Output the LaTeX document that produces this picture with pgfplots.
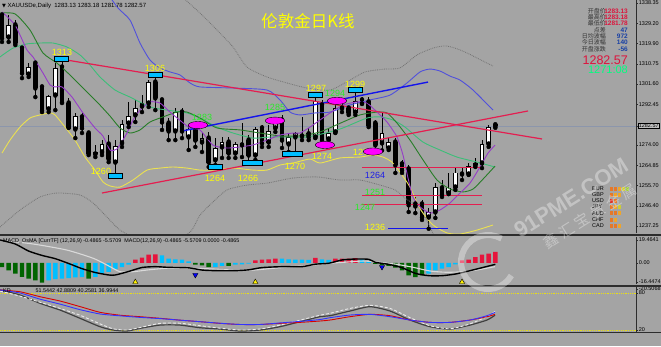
\documentclass[border=0pt]{standalone}
\usepackage{pgfplots}
\pgfplotsset{compat=1.18}
\usepackage{pgfplotstable}
\usepackage{fontspec}
\setmainfont{Liberation Sans}
\newfontfamily\cjk{Noto Sans CJK SC}
\newfontfamily\dejavu{DejaVu Sans}

\definecolor{bgc}{RGB}{164,164,164}
\definecolor{axc}{RGB}{45,45,45}
\definecolor{maPurple}{RGB}{150,60,200}
\definecolor{maDark}{RGB}{40,125,40}
\definecolor{maLight}{RGB}{60,190,120}
\definecolor{bbUp}{RGB}{80,80,220}
\definecolor{bbLow}{RGB}{235,225,80}
\definecolor{dotg}{RGB}{115,115,115}
\definecolor{trRed}{RGB}{228,30,80}
\definecolor{trBlue}{RGB}{20,20,235}
\definecolor{lblY}{RGB}{255,255,0}
\definecolor{lblG}{RGB}{40,235,40}
\definecolor{lblB}{RGB}{30,30,230}
\definecolor{boxC}{RGB}{0,190,255}
\definecolor{ellM}{RGB}{255,0,255}
\definecolor{hG}{RGB}{0,100,0}
\definecolor{hC}{RGB}{0,191,255}
\definecolor{hR}{RGB}{230,20,60}
\definecolor{pxline}{RGB}{140,150,172}
\definecolor{crim}{RGB}{220,20,60}
\definecolor{valB}{RGB}{25,65,165}
\definecolor{sprG}{RGB}{0,255,127}
\definecolor{cu1}{RGB}{230,120,40}
\definecolor{cu2}{RGB}{240,165,40}
\definecolor{cu3}{RGB}{205,205,50}
\definecolor{cu4}{RGB}{150,200,50}
\definecolor{cuR}{RGB}{220,50,40}

% daily OHLC, bar index 0 = 13 Sep 2017
\pgfplotstableread{
i o h l c
0 1332.9 1334.3 1320.7 1322.5
1 1322.9 1332.9 1320.7 1328.4
2 1328.4 1330.6 1319.3 1320.2
3 1317.9 1318.4 1304.3 1306.6
4 1306.1 1311.1 1304.8 1309.3
5 1311.1 1311.6 1295.7 1299.8
6 1300.3 1301.2 1288.9 1289.8
7 1290.3 1296.6 1288.9 1296.2
8 1296.6 1311.1 1289.8 1308.9
9 1309.3 1313.0 1293.0 1293.5
10 1293.0 1295.3 1281.7 1282.1
11 1281.2 1288.5 1277.1 1286.7
12 1286.7 1288.5 1279.4 1281.7
13 1279.4 1279.9 1269.4 1270.3
14 1269.9 1274.0 1268.5 1270.8
15 1270.8 1276.2 1269.4 1274.0
16 1274.4 1278.5 1266.2 1267.6
17 1266.2 1276.2 1260.0 1273.5
18 1274.9 1285.3 1273.1 1283.5
19 1283.9 1293.5 1282.1 1287.1
20 1287.6 1294.4 1284.4 1290.7
21 1291.6 1296.6 1288.9 1293.0
22 1293.0 1303.4 1291.2 1302.5
23 1302.5 1306.0 1289.8 1295.3
24 1294.4 1295.3 1280.8 1284.4
25 1283.9 1286.2 1276.2 1280.3
26 1280.3 1290.7 1276.2 1288.9
27 1288.9 1290.7 1277.1 1280.3
28 1277.6 1283.0 1271.7 1280.8
29 1282.1 1283.9 1273.1 1276.2
30 1275.3 1279.4 1270.8 1277.1
31 1277.1 1279.9 1264.0 1266.2
32 1267.2 1277.1 1264.9 1272.6
33 1273.1 1277.6 1268.1 1275.3
34 1275.3 1277.6 1268.1 1270.3
35 1270.3 1275.3 1268.1 1274.0
36 1274.0 1283.9 1268.5 1274.9
37 1276.2 1278.5 1266.0 1269.4
38 1269.4 1282.1 1267.2 1281.2
39 1281.7 1283.0 1273.1 1274.9
40 1275.3 1283.0 1273.1 1280.3
41 1281.7 1285.0 1279.9 1284.4
42 1285.3 1287.6 1272.6 1276.2
43 1274.4 1279.4 1270.8 1277.6
44 1277.6 1279.9 1270.0 1279.4
45 1278.0 1286.7 1276.2 1278.5
46 1279.0 1281.7 1276.2 1277.6
47 1277.6 1297.0 1277.1 1293.5
48 1292.1 1294.4 1274.0 1276.2
49 1276.7 1281.7 1276.2 1279.4
50 1279.9 1294.0 1279.4 1290.7
51 1290.7 1293.5 1288.9 1291.2
52 1290.7 1292.1 1287.6 1288.5
53 1288.9 1299.0 1287.6 1293.5
54 1294.4 1295.7 1292.6 1293.0
55 1293.5 1295.7 1282.1 1283.0
56 1283.9 1285.3 1271.0 1274.0
57 1274.9 1288.9 1271.5 1279.4
58 1272.6 1277.1 1271.7 1275.3
59 1275.3 1277.1 1261.3 1264.9
60 1265.4 1267.2 1261.3 1262.6
61 1263.1 1264.9 1243.6 1246.8
62 1247.2 1250.4 1243.1 1246.3
63 1247.2 1249.0 1240.0 1241.3
64 1241.3 1245.4 1236.0 1243.6
65 1243.6 1256.7 1240.9 1254.9
66 1254.5 1258.1 1250.4 1251.7
67 1252.2 1261.3 1251.7 1254.5
68 1254.9 1264.0 1253.6 1261.3
69 1260.8 1264.0 1258.1 1261.3
70 1260.8 1265.8 1260.4 1264.4
71 1264.9 1268.1 1264.0 1265.4
72 1265.8 1276.2 1263.5 1274.0
73 1274.4 1283.0 1273.1 1282.1
74 1283.13 1283.18 1281.78 1282.57
}\ohlc

\pgfplotsset{
  pane/.style={scale only axis, anchor=north west, width=636pt,
    xmin=-0.3, xmax=95.1, axis x line=none, axis y line*=right,
    axis line style={draw=axc, line width=0.9pt},
    tick style={draw=axc, line width=0.5pt}, major tick length=2pt,
    tick align=outside, clip=true,
    yticklabel style={font=\fontsize{5.5}{6}\selectfont, text=black, inner sep=0.7pt},
    xticklabel style={font=\fontsize{6.2}{6.5}\selectfont, text=black}},
  wick/.style={only marks, mark=none, error bars/.cd, y dir=plus, y explicit,
    error mark=none, error bar style={draw=black, line width=1pt}}
}
\tikzset{lbl/.style={font=\fontsize{9}{9}\selectfont, inner sep=0pt}}

\begin{document}
\begin{tikzpicture}
\fill[bgc] (0pt,0pt) rectangle (661pt,-346pt);

% ---------- price pane ----------
\begin{axis}[pane, at={(0pt,0pt)}, height=233pt, ymin=1234.07, ymax=1339.71,
  ytick={1338.35,1329.20,1319.90,1310.75,1301.60,1292.45,1274.00,1264.85,1255.70,1246.40,1237.25},
  yticklabels={1338.35,1329.20,1319.90,1310.75,1301.60,1292.45,1274.00,1264.85,1255.70,1246.40,1237.25},
  extra y ticks={1282.57}, extra y tick labels={1282.57},
  extra y tick style={yticklabel style={draw=black, fill=black!25, inner sep=0.6pt, line width=0.4pt}}]

% current price line
\addplot[pxline, line width=0.6pt] coordinates {(-0.3,1282.57) (95.1,1282.57)};

% candles: wicks, bodies, hollow centres of rising bars
\addplot[wick] table[x=i, y=l, y error plus expr=\thisrow{h}-\thisrow{l}] {\ohlc};
\addplot[only marks, mark=none, error bars/.cd, y dir=plus, y explicit, error mark=none,
  error bar style={draw=black, line width=4.4pt}]
  table[x=i, y expr={min(\thisrow{o},\thisrow{c})-0.2}, y error plus expr={abs(\thisrow{c}-\thisrow{o})+0.4}] {\ohlc};
\addplot[only marks, mark=none, error bars/.cd, y dir=plus, y explicit, error mark=none,
  error bar style={draw=white, line width=2.8pt}]
  table[x=i, y expr={\thisrow{o}+0.25}, y error plus expr={max(\thisrow{c}-\thisrow{o}-0.5,0)}] {\ohlc};

% envelope dotted lines
\addplot[dotg, densely dotted, line width=0.8pt, smooth, tension=0.4] coordinates {
(26.7,1342.0)(29.7,1333.8)(32.25,1326.1)(34.65,1318.4)(36.75,1309.3)(39.75,1304.8)(42.75,1302.1)
(45.75,1299.8)(49.2,1298.9)(52.2,1303.4)(54.45,1307.1)(57.45,1308.4)(59.7,1308.9)(62.25,1314.8)
(64.65,1317.9)(66.45,1318.9)(67.95,1317.9)(69.75,1315.7)(72.75,1311.1)(73.65,1309.8)};
\addplot[dotg, densely dotted, line width=0.8pt, smooth, tension=0.4] coordinates {
(-0.3,1236.8)(2.7,1244.5)(5.7,1250.4)(8.25,1252.2)(11.7,1251.3)(13.65,1247.7)(15.75,1241.3)
(17.7,1235.4)(20.7,1230.9)(24.45,1228.6)(28.2,1234.5)(29.7,1242.2)(31.5,1247.7)(33.75,1253.6)
(36.75,1255.8)(39.75,1256.7)(43.65,1259.0)(47.25,1259.5)(50.7,1258.1)(53.7,1258.1)(56.7,1255.8)
(58.95,1253.6)(60.45,1249.9)(61.95,1246.8)(63.15,1243.1)(64.2,1236.8)(65.4,1228.6)};

% Bollinger bands
\addplot[bbUp, line width=0.9pt, smooth, tension=0.4] coordinates {
(15.45,1344.2)(17.4,1336.1)(19.2,1330.6)(20.7,1320.2)(22.2,1312.5)(23.7,1308.9)(25.2,1307.1)
(26.7,1305.7)(28.2,1302.1)(29.7,1300.3)(34.65,1299.8)(39.75,1298.9)(41.7,1294.4)(43.2,1288.9)
(44.7,1287.6)(46.95,1288.5)(49.2,1288.9)(52.2,1292.1)(55.2,1294.4)(58.2,1296.6)(60.75,1302.1)
(62.7,1307.1)(64.2,1308.4)(65.7,1307.5)(67.2,1305.2)(68.7,1303.4)(70.65,1298.9)(73.65,1289.8)};
\addplot[bbLow, line width=0.9pt, smooth, tension=0.4] coordinates {
(0,1270.3)(1.2,1276.2)(2.7,1282.1)(4.2,1286.2)(5.7,1287.6)(7.2,1288.5)(7.95,1287.6)(9.45,1282.1)
(10.95,1276.2)(12.45,1268.5)(13.95,1262.6)(15.15,1257.2)(16.2,1255.4)(17.7,1254.9)(19.65,1258.1)
(21.75,1262.6)(23.7,1263.5)(25.65,1264.0)(27.75,1263.5)(29.7,1262.6)(31.65,1262.6)(34.65,1263.5)
(37.65,1262.6)(39.75,1262.6)(41.7,1264.9)(43.65,1265.8)(46.2,1267.6)(47.7,1265.8)(50.7,1268.1)
(53.7,1268.5)(55.65,1269.4)(57.15,1268.5)(58.5,1266.2)(59.7,1261.7)(61.2,1254.9)(62.25,1247.7)
(63.15,1243.1)(64.65,1237.7)(66.75,1234.1)(68.7,1233.6)(71.25,1235.4)(73.65,1237.7)};

% moving averages
\addplot[maLight, line width=0.9pt, smooth, tension=0.4] coordinates {
(-0.3,1313.9)(1.65,1317.9)(3.75,1319.8)(5.7,1320.2)(7.65,1320.2)(9.75,1318.4)(11.7,1314.8)
(13.2,1310.2)(14.7,1304.8)(16.95,1298.9)(19.2,1295.7)(22.2,1291.2)(24.75,1289.8)(27.75,1288.5)
(29.7,1286.2)(32.25,1282.1)(34.65,1279.4)(37.65,1277.1)(40.2,1277.6)(42.75,1277.6)(45.75,1277.6)
(49.2,1279.9)(51.15,1281.7)(54.75,1286.2)(56.7,1286.7)(58.65,1285.3)(60.45,1282.1)(63.15,1275.3)
(65.7,1271.7)(68.25,1268.5)(71.25,1266.2)(73.95,1264.0)};
\addplot[maDark, line width=0.9pt, smooth, tension=0.4] coordinates {
(-0.3,1333.8)(1.95,1333.4)(4.2,1326.1)(6.15,1315.7)(8.25,1311.1)(10.2,1305.7)(12.15,1299.8)
(14.25,1293.5)(16.2,1287.1)(17.7,1281.7)(19.2,1279.4)(20.7,1280.8)(22.2,1284.4)(24.15,1286.7)
(26.25,1288.9)(27.75,1288.9)(29.7,1286.2)(32.25,1281.7)(35.7,1280.8)(38.7,1279.4)(41.7,1278.1)
(44.7,1278.1)(47.7,1279.9)(51.15,1284.4)(53.7,1287.6)(56.25,1288.9)(57.75,1288.5)(59.25,1283.9)
(61.2,1276.2)(63.15,1267.2)(65.25,1258.1)(67.2,1254.0)(69.15,1252.7)(70.65,1254.0)(72.15,1258.5)
(73.95,1264.4)};
\addplot[maPurple, line width=0.9pt, smooth, tension=0.35] coordinates {
(0,1334.3)(1.95,1328.4)(3.75,1317.0)(4.65,1313.9)(6.15,1306.6)(7.2,1301.2)(7.95,1300.3)(9.0,1300.3)
(10.5,1295.7)(12.15,1288.5)(13.95,1281.7)(15.15,1278.0)(16.2,1271.7)(17.25,1272.2)(18.75,1279.4)
(19.65,1285.3)(20.7,1289.8)(22.2,1293.5)(23.7,1293.0)(25.2,1288.9)(27.0,1284.4)(28.2,1281.7)
(29.7,1280.8)(31.65,1273.9)(33.75,1272.6)(35.7,1273.1)(37.65,1274.0)(39.75,1276.2)(41.7,1278.5)
(43.65,1279.4)(44.7,1279.4)(46.2,1282.1)(47.7,1285.3)(49.2,1288.5)(51.15,1292.1)(53.25,1293.5)
(54.75,1293.0)(56.25,1288.9)(57.75,1284.4)(59.25,1277.6)(60.15,1269.4)(60.9,1259.0)(61.65,1250.4)
(62.7,1245.9)(64.2,1243.1)(65.7,1244.5)(67.2,1247.7)(68.7,1252.2)(70.2,1256.7)(71.7,1264.0)
(72.9,1270.3)(73.95,1273.9)};

% trend lines and levels
\addplot[trRed, line width=1.2pt] coordinates {(8.7,1313.0) (81.0,1276.7)};
\addplot[trRed, line width=1.2pt] coordinates {(15.0,1252.2) (78.9,1289.4)};
\addplot[trBlue, line width=1.4pt] coordinates {(27.0,1280.3) (63.9,1302.5)};
\addplot[trRed, line width=0.8pt] coordinates {(54,1264) (72,1264)};
\addplot[trRed, line width=0.8pt] coordinates {(54,1251) (72,1251)};
\addplot[trRed, line width=0.8pt] coordinates {(54,1247) (72,1247)};
\addplot[trBlue, line width=1.1pt] coordinates {(57.9,1236) (66.9,1236)};

% swing markers
\addplot[only marks, mark=square*, mark size=2.5pt, mark options={xscale=2.8, fill=boxC, draw=none}]
  coordinates {(8.9,1313) (22.95,1306) (46.95,1297) (52.95,1299) (16.95,1260) (31.95,1264)};
\addplot[only marks, mark=square*, mark size=2.4pt, mark options={xscale=4.2, fill=boxC, draw=none}]
  coordinates {(37.5,1266) (43.5,1270)};
\addplot[only marks, mark=*, mark size=3.6pt, mark options={xscale=2.7, fill=ellM, draw=none}]
  coordinates {(29.4,1283) (40.95,1285) (50.25,1294) (48.45,1274) (55.65,1271)};

% level labels
\node[lbl, text=lblY] at (9.0,1316.1) {1313};
\node[lbl, text=lblY] at (22.95,1308.9) {1306};
\node[lbl, text=lblY] at (47.1,1299.8) {1297};
\node[lbl, text=lblY] at (52.95,1301.6) {1299};
\node[lbl, text=lblG] at (49.95,1297.5) {1294};
\node[lbl, text=lblG] at (40.95,1291.2) {1285};
\node[lbl, text=lblG] at (30.0,1286.7) {1283};
\node[lbl, text=lblY] at (14.85,1262.2) {1260};
\node[lbl, text=lblY] at (31.95,1259.0) {1264};
\node[lbl, text=lblY] at (36.9,1259.0) {1266};
\node[lbl, text=lblY] at (43.95,1264.4) {1270};
\node[lbl, text=lblY] at (48.0,1269.0) {1274};
\node[lbl, text=lblY] at (54.15,1270.8) {1271};
\node[lbl, text=lblB] at (55.95,1260.4) {1264};
\node[lbl, text=lblG] at (55.95,1252.7) {1251};
\node[lbl, text=lblG] at (54.45,1245.9) {1247};
\node[lbl, text=lblY] at (55.95,1236.8) {1236};
\end{axis}

% ---------- MACD pane ----------
\begin{axis}[pane, at={(0pt,-237pt)}, height=47pt, ymin=-18.1, ymax=22.0,
  ytick={19.4641,0,-16.4474}, yticklabels={19.4641,0.00,-16.4474}]
\addplot[ybar, bar width=4.4pt, bar shift=0pt, fill=hG, draw=none] coordinates {
(0,-3.6)(1,-6.4)(2,-9.3)(3,-12.1)(4,-13.5)(5,-15.0)(6,-17.0)(13,-13.5)(29,-1.5)(30,-2.1)(31,-3.6)
(34,-2.7)(56,-1.0)(57,-2.0)(58,-2.7)(59,-4.2)(60,-6.5)(61,-10.8)(62,-12.3)(63,-10.8)};
\addplot[ybar, bar width=4.4pt, bar shift=0pt, fill=hC, draw=none] coordinates {
(7,-15.0)(8,-14.0)(9,-13.5)(10,-13.0)(11,-12.5)(12,-12.2)(14,-12.1)(15,-9.3)(16,-7.7)(17,-5.4)
(18,-3.6)(19,-1.5)(24,6.3)(25,3.6)(26,3.0)(27,2.7)(28,1.3)(32,-3.6)(33,-2.7)(35,-1.5)(36,-1.3)
(37,-0.7)(42,3.6)(43,3.0)(44,2.7)(45,2.7)(46,2.4)(48,3.0)(49,2.4)(54,3.0)(55,0.8)(64,-9.3)
(65,-6.5)(66,-5.0)(67,-3.6)(68,-1.3)};
\addplot[ybar, bar width=4.4pt, bar shift=0pt, fill=hR, draw=none] coordinates {
(20,2.7)(21,4.4)(22,7.0)(23,7.2)(38,2.1)(39,2.7)(40,3.0)(41,3.6)(47,4.2)(50,3.6)(51,3.6)(52,3.6)
(53,3.9)(69,2.1)(70,2.7)(71,4.8)(72,7.0)(73,7.8)(74,9.3)};
\addplot[black!15, line width=1.1pt, smooth, tension=0.4] coordinates {
(-0.3,19.3)(4.7,16.0)(9.7,10.9)(13.7,3.8)(16.2,-3.3)(17.7,-7.6)(19.7,-7.6)(21.7,-6.2)(24.7,-4.7)
(28.7,-4.7)(31.7,-5.3)(34.7,-6.2)(37.7,-6.2)(40.7,-4.7)(43.7,-3.3)(46.7,-1.9)(49.2,-0.4)(51.2,0.4)
(54.2,1.5)(56.7,0.4)(59.2,-1.3)(61.7,-3.9)(64.2,-7.0)(66.7,-8.1)(69.2,-7.6)(71.2,-6.2)(73.95,-3.3)};
\addplot[black, line width=1.4pt, smooth, tension=0.4] coordinates {
(-0.3,19.5)(2,16.0)(4,10.0)(6,6.3)(8,3.5)(10,-0.6)(12,-5.0)(14,-8.3)(16,-10.4)(17,-10.4)(19,-7.4)
(21,-4.0)(23,-3.3)(25,-3.9)(28,-4.3)(30,-6.2)(32,-6.7)(35,-6.7)(37,-6.0)(39,-4.1)(42,-3.3)(45,-3.3)
(47,-1.2)(49,-0.4)(51,2.4)(53,3.2)(55,3.0)(56,0.4)(58,-1.3)(60,-4.2)(62,-9.0)(64,-11.0)(66,-11.0)
(68,-9.6)(70,-7.0)(72,-4.2)(74,-1.3)};
\addplot[only marks, mark=triangle*, mark size=3pt, mark options={fill=yellow, draw=none}]
  coordinates {(20,-16.4) (38,-16.4) (69,-16.4)};
\addplot[only marks, mark=triangle*, mark size=3pt, mark options={rotate=180, fill=blue, draw=none}]
  coordinates {(29,-10.4) (57,-3.6)};
\end{axis}

% ---------- KD pane ----------
\begin{axis}[pane, at={(0pt,-287pt)}, height=45pt, ymin=16.8, ymax=89.7,
  axis x line*=bottom,
  ytick={86.5,80,20}, yticklabels={-20.5068,80,20},
  xtick={0,6,...,72},
  xticklabels={13 Sep 2017,21 Sep 2017,29 Sep 2017,9 Oct 2017,17 Oct 2017,25 Oct 2017,2 Nov 2017,10 Nov 2017,20 Nov 2017,28 Nov 2017,6 Dec 2017,14 Dec 2017,22 Dec 2017},
  xticklabel style={anchor=north west, inner sep=0.5pt, xshift=0.5pt}]
\addplot[yellow!90!black, densely dotted, line width=0.8pt] coordinates {(-0.3,80) (95.1,80)};
\addplot[yellow!90!black, densely dotted, line width=0.8pt] coordinates {(-0.3,20) (95.1,20)};
\addplot[black!75, line width=1.2pt, smooth, tension=0.4] coordinates {
(-0.3,84.9)(2.7,76.8)(5.7,63.3)(8.7,52.4)(11.7,39)(14.7,25.4)(16.65,20)(18.75,18.4)(20.7,22.7)
(23.7,28)(26.7,28)(29.7,23.7)(32.7,21.6)(35.7,18.4)(38.7,20)(41.7,25.4)(44.7,33.5)(47.7,41.6)
(49.2,43.2)(52.2,50.8)(55.2,57.8)(58.2,50.8)(61.2,36.2)(64.2,25.4)(67.2,21.6)(70.2,28)(72.75,36.2)
(73.95,44)};
\addplot[white!92!black, densely dashed, line width=0.9pt, smooth, tension=0.4] coordinates {
(-0.3,83)(2.7,75)(5.7,65)(8.7,55)(11.7,44)(14.7,30)(16.65,22)(18.75,20)(20.7,24)(23.7,30.8)
(26.7,31)(29.7,27)(32.7,23)(35.7,20)(38.7,21.6)(41.7,28)(44.7,36)(47.7,44)(49.2,47)(52.2,55)
(55.2,60)(58.2,55)(61.2,40)(64.2,27)(67.2,22)(70.2,30)(72.75,42)(73.95,50)};
\addplot[red!85!black, line width=0.9pt, smooth, tension=0.4] coordinates {
(-0.3,84.9)(2.7,82)(5.7,74)(8.7,67)(11.7,58)(14.7,48.7)(17.7,44)(20.7,41.6)(23.7,39)(26.7,36)
(29.7,33.5)(32.7,30.8)(35.7,29)(38.7,29)(41.7,30.8)(44.7,32.4)(47.7,34.6)(49.2,36.2)(52.2,41.6)
(55.2,45.4)(58.2,43.2)(61.2,36.2)(64.2,32.4)(67.2,32.4)(70.2,36.2)(72.75,41.6)(73.95,45.4)};
\addplot[blue!80!white, line width=0.9pt, smooth, tension=0.4] coordinates {
(-0.3,84.9)(2.7,80)(5.7,70)(8.7,62)(11.7,53)(14.7,46)(17.7,43)(20.7,40.5)(23.7,38.5)(26.7,36)
(29.7,33.5)(32.7,31)(35.7,29)(38.7,29)(41.7,31.5)(44.7,34)(47.7,37)(49.2,40)(52.2,44.3)(55.2,45.4)
(58.2,41.6)(61.2,36.2)(64.2,32.4)(67.2,32.4)(70.2,36.2)(72.75,43.2)(73.95,48.7)};
\end{axis}

% pane separators
\draw[axc, line width=2pt] (0pt,-235pt) -- (661pt,-235pt);
\draw[axc, line width=2pt] (0pt,-285.5pt) -- (661pt,-285.5pt);
\draw[axc, line width=1pt] (0pt,-332.5pt) -- (661pt,-332.5pt);

% chart header and title
\node[anchor=west, inner sep=0pt, font=\fontsize{6}{6}\selectfont] at (2pt,-5.5pt)
  {{\dejavu\fontsize{5}{5}\selectfont ▼} XAUUSDe,Daily\ \ 1283.13 1283.18 1281.78 1282.57};
\node[text=lblY, inner sep=0pt, font=\cjk\fontsize{16.5}{17}\selectfont] at (308pt,-21pt) {伦敦金日K线};

% indicator panel headers
\node[anchor=west, inner sep=0pt, font=\fontsize{5.4}{5.4}\selectfont] at (3pt,-241pt)
  {MACD\_OsMA [CurrTF] (12,26,9) -0.4865 -5.5709\ \ MACD(12,26,9) -0.4865 -5.5709 0.0000 -0.4865};
\node[anchor=west, inner sep=0pt, font=\fontsize{5.4}{5.4}\selectfont] at (3pt,-290.5pt)
  {KD\hspace{25pt}51.5442 42.8809 40.2581 36.9944};

% quote panel
\foreach \lab/\val/\yy/\col in {开盘价/1283.13/11/crim, 最高价/1283.18/17.3/crim, 最低价/1281.78/23.7/crim,
  点差/47/30/valB, 日均波幅/972/36.3/valB, 今日波幅/140/42.7/valB, 开盘涨跌/-56/49/valB}{
  \node[anchor=east, inner sep=0pt, text=black!80, font=\cjk\fontsize{6}{6}\selectfont] at (606pt,-\yy pt) {\lab};
  \node[anchor=east, inner sep=0pt, text=\col, font=\bfseries\fontsize{6.5}{6.5}\selectfont] at (628pt,-\yy pt) {\val};
}
\node[anchor=east, inner sep=0pt, text=crim, font=\fontsize{12.5}{12.5}\selectfont] at (628pt,-60pt) {1282.57};
\node[anchor=east, inner sep=0pt, text=sprG, font=\fontsize{11}{11}\selectfont] at (628pt,-69.5pt) {1271:08};

% currency strength panel
\foreach \cur/\yy/\cols in {EUR/188.5/{cu1,cu1,cu2,cu3,cu4}, GBP/194.7/{cu1,cu2,cu2},
  USD/200.9/{cuR,cu1}, JPY/207.1/{cu1,cu2,cu3}, AUD/213.3/{cu1,cu1,cu2},
  CHF/219.5/{cu1,cu2}, CAD/225.7/{cu1,cu1,cu2}}{
  \node[anchor=west, inner sep=0pt, font=\fontsize{5.5}{5.5}\selectfont] at (592pt,-\yy pt) {\cur};
  \foreach \c [count=\k] in \cols {
    \fill[\c] ({606pt+\k*4pt},{-\yy pt-2pt}) rectangle ++(3.2pt,4pt);
  }
}

% watermark
\begin{scope}[opacity=0.35]
\draw[white, line width=6pt] (488pt,-262pt) ++(60:27pt) arc (60:330:27pt);
\node[text=white, rotate=32, inner sep=0pt, font=\bfseries\fontsize{22}{22}\selectfont] at (571pt,-198pt) {91PME.COM};
\node[text=white, rotate=32, inner sep=0pt, font=\cjk\fontsize{15}{15}\selectfont] at (590pt,-216pt) {鑫 汇 宝 贵 金 属};
\end{scope}

\pgfresetboundingbox
\useasboundingbox (0pt,0pt) rectangle (661pt,-346pt);
\end{tikzpicture}
\end{document}
